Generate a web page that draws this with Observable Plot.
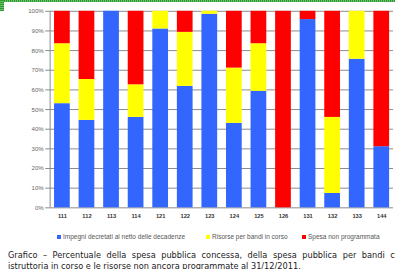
<!DOCTYPE html>
<html><head><meta charset="utf-8">
<script src="https://cdn.jsdelivr.net/npm/d3@7"></script>
<script src="https://cdn.jsdelivr.net/npm/@observablehq/plot@0.6"></script>
<style>
html,body{margin:0;padding:0;background:#fff;overflow:hidden;width:395px;height:269px;}
body{position:relative;}
#topbar{position:absolute;left:0;top:0;width:395px;height:2px;background:repeating-linear-gradient(90deg,#2f9a2f 0 1px,#6cc06c 1px 2px);}
#corner{position:absolute;left:0;top:0;width:4px;height:11px;background:repeating-linear-gradient(0deg,#2f9a2f 0 1px,#6cc06c 1px 2px);}
#chart{position:absolute;left:0;top:0;}
#legend{position:absolute;top:233px;left:0;width:400px;font-family:"Liberation Sans",Arial,sans-serif;font-size:6.5px;color:#555;}
.li{position:absolute;top:0;white-space:nowrap;display:flex;align-items:center;}
.sw{display:inline-block;width:4px;height:4px;margin-right:2px;}
#cap1{position:absolute;left:8px;top:250px;width:397px;font-family:"DejaVu Sans",Verdana,sans-serif;font-size:8.2px;color:#222;text-align:justify;text-align-last:justify;white-space:nowrap;}
#cap2{position:absolute;left:8px;top:261px;font-family:"DejaVu Sans",Verdana,sans-serif;font-size:8.2px;color:#222;white-space:nowrap;}
</style></head>
<body>
<div id="chart"></div>
<div id="topbar"></div><div id="corner"></div>
<div id="legend"></div>
<div id="cap1"></div>
<div id="cap2"></div>
<script>
const categories = ["111","112","113","114","121","122","123","124","125","126","131","132","133","144"];
const impegni = [53, 44.5, 100, 46, 91, 61.8, 98.5, 43, 59.3, 0, 95.8, 7.3, 75.6, 31.1];
const risorse = [30.5, 20.8, 0, 16.6, 9, 27.5, 1.5, 28.1, 24.2, 0, 0, 38.7, 24.4, 0];
const nonProg = [16.5, 34.7, 0, 37.4, 0, 10.7, 0, 28.9, 16.5, 100, 4.2, 54, 0, 68.9];
const seriesNames = ["Impegni decretati al netto delle decadenze", "Risorse per bandi in corso", "Spesa non programmata"];
const seriesColors = ["#3366ff", "#ffff00", "#ff0000"];
const yTicks = [0,10,20,30,40,50,60,70,80,90,100];
const captionLine1 = "Grafico – Percentuale della spesa pubblica concessa, della spesa pubblica per bandi con";
const captionLine2 = "istruttoria in corso e le risorse non ancora programmate al 31/12/2011.";

const seriesValues = [impegni, risorse, nonProg];
const data = [];
seriesNames.forEach((s, si) => categories.forEach((c, i) => data.push({cat: c, series: s, value: seriesValues[si][i]})));

const chart = Plot.plot({
  width: 402, height: 226,
  marginLeft: 50, marginRight: 2, marginTop: 11, marginBottom: 15,
  style: {fontFamily: "Liberation Sans, Arial, sans-serif", background: "transparent"},
  x: {domain: categories, paddingInner: 0.36, paddingOuter: 0.18, label: null},
  y: {domain: [0, 100], label: null},
  color: {domain: seriesNames, range: seriesColors},
  marks: [
    Plot.ruleY(yTicks, {y: d => d, stroke: "#8a8a8a", strokeWidth: 1}),
    Plot.barY(data, {x: "cat", y: "value", fill: "series", order: seriesNames}),
    Plot.ruleX([0], {x: () => categories[0], dx: -12.5, y1: 0, y2: 100, stroke: "#8a8a8a"}),
    Plot.axisY({ticks: yTicks, tickFormat: d => d + "%", tickSize: 4, tickPadding: 2, stroke: "#8a8a8a", fill: "#666", fontSize: 6.2, label: null}),
    Plot.axisX({tickSize: 0, tickPadding: 6, fill: "#333", fontSize: 5.8, fontWeight: "bold", label: null})
  ]
});
document.getElementById("chart").appendChild(chart);

const legendPos = [57, 206, 302];
const lg = document.getElementById("legend");
seriesNames.forEach((s, i) => {
  const d = document.createElement("div");
  d.className = "li";
  d.style.left = legendPos[i] + "px";
  d.innerHTML = `<span class="sw" style="background:${seriesColors[i]}"></span>`;
  d.appendChild(document.createTextNode(s));
  lg.appendChild(d);
});
document.getElementById("cap1").textContent = captionLine1;
document.getElementById("cap2").textContent = captionLine2;
</script>
</body></html>
